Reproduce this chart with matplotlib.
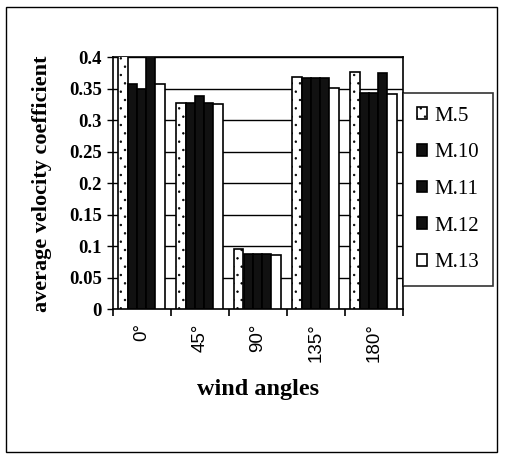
import matplotlib
matplotlib.use("Agg")
import matplotlib.pyplot as plt
import numpy as np
from matplotlib.patches import Rectangle

categories = ["0°", "45°", "90°", "135°", "180°"]
series_names = ["M.5", "M.10", "M.11", "M.12", "M.13"]
m5 = [0.42, 0.328, 0.096, 0.368, 0.376]
m10 = [0.358, 0.328, 0.087, 0.367, 0.343]
m11 = [0.350, 0.338, 0.087, 0.367, 0.343]
m12 = [0.42, 0.328, 0.087, 0.367, 0.375]
m13 = [0.357, 0.326, 0.086, 0.352, 0.342]
yticks = [0, 0.05, 0.1, 0.15, 0.2, 0.25, 0.3, 0.35, 0.4]
ytick_labels = ["0", "0.05", "0.1", "0.15", "0.2", "0.25", "0.3", "0.35", "0.4"]

series = [m5, m10, m11, m12, m13]
faces = ["white", "#111111", "#111111", "#111111", "white"]
hatches = ["..", None, None, None, None]

serif = "Liberation Serif"
sans = "Liberation Sans"
plt.rcParams["hatch.linewidth"] = 0.5

fig = plt.figure(figsize=(5.05, 4.59), dpi=100)
ax = fig.add_axes([113/505, 1-309.3/459, (403-113)/505, (309.3-57.3)/459])

x = np.arange(len(categories))
w = 0.16
for k, vals in enumerate(series):
    ax.bar(x + (k-2)*w - 0.01, vals, width=w, color=faces[k], edgecolor="black",
           linewidth=1.2, hatch=hatches[k], label=series_names[k], zorder=3)

ax.set_xlim(-0.5, len(categories)-0.5)
ax.set_ylim(0, 0.4)
ax.set_yticks(yticks)
ax.set_yticklabels(ytick_labels, fontfamily=serif, fontweight="bold", fontsize=13.5)
ax.yaxis.grid(True, color="black", linewidth=1.0, zorder=0)
ax.set_axisbelow(True)
ax.set_xticks(x)
ax.set_xticklabels(categories, rotation=90, fontfamily=sans, fontsize=13.5)
ax.tick_params(axis="x", which="major", length=0, pad=10)
ax.set_xticks(np.arange(-0.5, len(categories)), minor=True)
ax.tick_params(axis="x", which="minor", length=5, width=1.2, direction="out")
ax.tick_params(axis="y", length=4, width=1.0, direction="out", pad=4)
for s in ax.spines.values():
    s.set_linewidth(1.2)

ax.set_xlabel("wind angles", fontfamily=serif, fontweight="bold", fontsize=17.5, labelpad=12)
ax.set_ylabel("average velocity coefficient", fontfamily=serif, fontweight="bold",
              fontsize=16, labelpad=12)

leg = fig.legend(loc="upper left", bbox_to_anchor=(403/505, 1-93/459),
                 prop={"family": serif, "size": 15}, frameon=True, fancybox=False,
                 edgecolor="black", handlelength=0.5, handleheight=0.5,
                 handletextpad=0.35, labelspacing=0.85, borderpad=0.65, borderaxespad=0)
leg.get_frame().set_linewidth(1.2)

fig.patches.append(Rectangle((6/505, 7/459), (497-6)/505, (452-7)/459,
                             transform=fig.transFigure, fill=False,
                             edgecolor="black", linewidth=1.0))

fig.savefig("out.png", dpi=100)
